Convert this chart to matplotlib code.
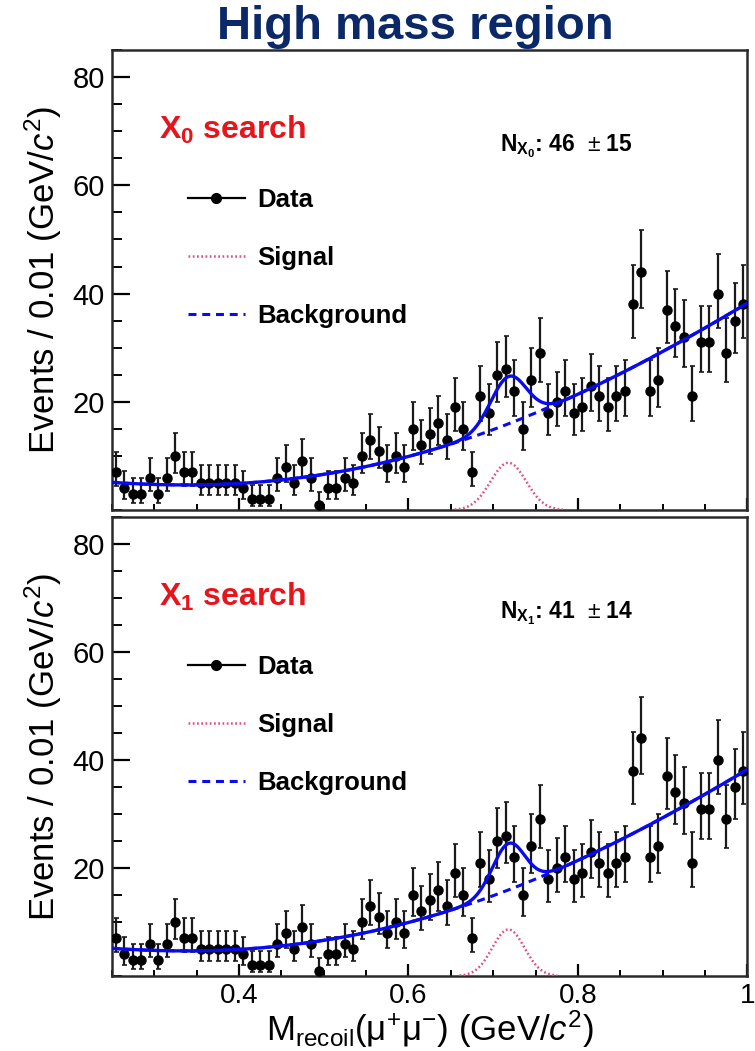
import numpy as np
import matplotlib
matplotlib.use("Agg")
import matplotlib.pyplot as plt
from matplotlib import font_manager
from matplotlib.lines import Line2D
from matplotlib.ticker import MultipleLocator, FuncFormatter, FixedLocator

# pick the narrow face for numbers / x title when it exists
names = {f.name for f in font_manager.fontManager.ttflist}
narrow = "Liberation Sans Narrow" if "Liberation Sans Narrow" in names else "Liberation Sans"

plt.rcParams["font.family"] = ["Liberation Sans", "DejaVu Sans"]
plt.rcParams["mathtext.fontset"] = "custom"
plt.rcParams["mathtext.rm"] = narrow
plt.rcParams["mathtext.it"] = narrow + ":italic"
plt.rcParams["mathtext.bf"] = "Liberation Sans:bold"

# recoil mass histogram, 0.01 GeV/c^2 bins from 0.25 to 1.0
mass = np.linspace(0.255, 0.995, 75)
counts = np.array([
    7, 4, 3, 3, 6, 3, 6, 10, 7, 7,
    5, 5, 5, 5, 5, 4, 2, 2, 2, 6,
    8, 5, 9, 6, 1, 4, 4, 6, 5, 10,
    13, 11, 8, 10, 8, 15, 12, 14, 16, 13,
    19, 15, 7, 21, 18, 25, 26, 22, 15, 24,
    29, 18, 20, 22, 18, 19, 23, 21, 19, 21,
    22, 38, 44, 22, 24, 37, 34, 32, 21, 31,
    31, 40, 29, 35, 38,
])

# background shape
bkg_x = [0.25, 0.30, 0.35, 0.40, 0.45, 0.50, 0.55, 0.60, 0.65, 0.70, 0.75, 0.80, 0.85, 0.90, 0.95, 1.00]
bkg_y = [5.0, 4.9, 4.8, 4.8, 5.4, 6.5, 8.0, 10.1, 12.4, 14.9, 17.7, 21.3, 25.2, 29.4, 33.7, 38.2]

# signal yields quoted in each panel
searches = ["0", "1"]
n_signal = [46, 41]
n_signal_err = [15, 14]
peak_mass = 0.718
peak_width = [0.021, 0.019]
bin_width = 0.01

y_ticks = [20, 40, 60, 80]

BLUE = "#0a0aee"
PINK = "#e0507a"
RED = "#e8141c"
NAVY = "#0b2868"

# approximate Poisson (Gehrels) error bars
err_lo = np.sqrt(np.maximum(counts - 0.25, 0))
err_hi = 1.0 + np.sqrt(counts + 0.75)
bkg_coef = np.polyfit(bkg_x, bkg_y, 4)

fig = plt.figure(figsize=(7.55, 10.51), dpi=100)
ax_top = fig.add_axes([0.148, 0.5147, 0.842, 0.4377])
ax_bot = fig.add_axes([0.148, 0.0714, 0.842, 0.4367])


def draw_panel(ax, idx):
    ax.errorbar(mass, counts, yerr=[err_lo, err_hi], fmt="o", color="black",
                ms=6.5, ecolor="#1a1a1a", elinewidth=1.6, capsize=1.8,
                capthick=1.2, zorder=3)
    xs = np.linspace(0.25, 1.0, 800)
    bkg = np.polyval(bkg_coef, xs)
    amp = n_signal[idx] * bin_width / (peak_width[idx] * np.sqrt(2 * np.pi))
    sig = amp * np.exp(-0.5 * ((xs - peak_mass) / peak_width[idx]) ** 2)
    show = sig > 0.08
    ax.plot(xs[show], sig[show], ls=(0, (0.7, 1.0)), color=PINK, lw=1.8, zorder=4)
    ax.plot(xs, bkg, ls=(0, (2.6, 1.9)), color=BLUE, lw=2.2, zorder=4)
    ax.plot(xs, bkg + sig, color=BLUE, lw=2.4, zorder=5)

    ax.set_xlim(0.25, 1.0)
    ax.set_ylim(0, 85)
    ax.xaxis.set_major_locator(MultipleLocator(0.2))
    ax.xaxis.set_minor_locator(MultipleLocator(0.05))
    ax.xaxis.set_major_formatter(FuncFormatter(lambda v, p: "%g" % round(v, 2)))
    ax.yaxis.set_major_locator(FixedLocator(y_ticks))
    ax.yaxis.set_minor_locator(MultipleLocator(5))
    ax.tick_params(axis="y", which="major", direction="in", length=13, width=1.6,
                   labelsize=21, pad=5)
    ax.tick_params(axis="y", which="minor", direction="in", length=7, width=1.4)
    ax.tick_params(axis="x", which="major", direction="in", length=9, width=1.6,
                   labelsize=20, pad=5)
    ax.tick_params(axis="x", which="minor", direction="in", length=4.5, width=1.4)
    for lab in ax.get_yticklabels() + ax.get_xticklabels():
        lab.set_family(narrow)
    for sp in ax.spines.values():
        sp.set_linewidth(1.8)
        sp.set_color("#2a2a2a")

    ax.set_ylabel("Events / 0.01 (GeV/$\\it{c}^{2}$)", fontsize=25, labelpad=6)

    ax.text(0.075, 0.826, "$\\mathbf{X}_{\\mathbf{%s}}$ search" % searches[idx],
            transform=ax.transAxes, color=RED, fontsize=23, fontweight="bold",
            va="center", ha="left")
    ax.text(0.61, 0.79,
            "$\\mathbf{N}_{\\mathbf{X}_{\\mathbf{%s}}}$: %d  $\\pm$ %d"
            % (searches[idx], n_signal[idx], n_signal_err[idx]),
            transform=ax.transAxes, fontsize=16.5, fontweight="bold",
            va="center", ha="left")

    handles = [
        Line2D([], [], color="black", marker="o", ms=7, lw=1.6),
        Line2D([], [], color=PINK, ls=(0, (0.7, 1.0)), lw=1.8),
        Line2D([], [], color=BLUE, ls=(0, (2.6, 1.9)), lw=2.2),
    ]
    ax.legend(handles, ["Data", "Signal", "Background"], loc="upper left",
              bbox_to_anchor=(0.12, 0.70), frameon=False, borderpad=0,
              borderaxespad=0, handlelength=2.2, handletextpad=0.5,
              labelspacing=1.33, prop={"family": "Liberation Sans",
                                       "weight": "bold", "size": 18.5})


draw_panel(ax_top, 0)
draw_panel(ax_bot, 1)
ax_top.tick_params(axis="x", labelbottom=False)
ax_bot.set_xlabel("M$_{\\rm recoil}$(μ$^{+}$μ$^{-}$) (GeV/$\\it{c}^{2}$)",
                  fontsize=25, family=narrow, labelpad=0)

fig.text(0.55, 0.974, "High mass region", color=NAVY, fontsize=34,
         fontweight="bold", ha="center", va="center")

fig.savefig("out.png", dpi=100)
